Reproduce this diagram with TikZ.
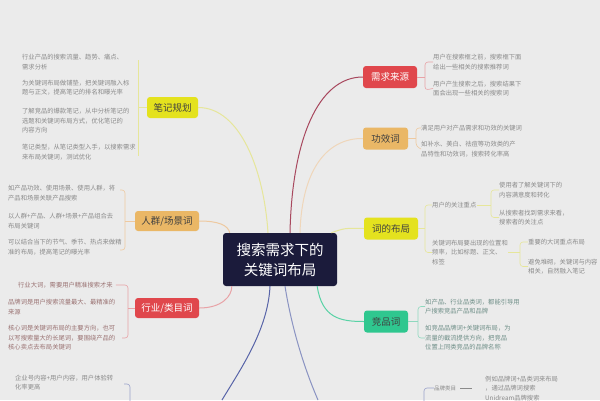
\documentclass[tikz,border=0pt]{standalone}
\usepackage{fontspec}
\setmainfont{Noto Sans CJK SC}
\definecolor{bgc}{HTML}{EBEBEB}
\definecolor{navy}{HTML}{1B1B3B}
\definecolor{redc}{HTML}{E0474C}
\definecolor{orac}{HTML}{EAB766}
\definecolor{yelc}{HTML}{E4E21E}
\definecolor{grnc}{HTML}{2FC78F}
\definecolor{leafc}{HTML}{8A8A8A}
\definecolor{leafr}{HTML}{9A7272}
\definecolor{leafg}{HTML}{6F8F88}
\definecolor{lred}{HTML}{E8A2A6}
\definecolor{lyel}{HTML}{E6E69A}
\definecolor{lora}{HTML}{EEC9A0}
\definecolor{lgrn}{HTML}{8FD8BE}
\definecolor{lnred}{HTML}{A8485E}
\definecolor{lnblu}{HTML}{5864A8}
\begin{document}
\begin{tikzpicture}[x=1pt,y=-1pt,
  box/.style={rounded corners=3pt, minimum height=22pt, inner sep=2pt, font=\fontsize{9.5}{11}\selectfont},
  leaf/.style={anchor=west, align=left, inner sep=0pt, text=leafc, font=\fontsize{6.3}{9.5}\selectfont},
  conn/.style={line width=1pt},
  brk/.style={line width=0.6pt, rounded corners=3pt}]
\fill[bgc] (0,0) rectangle (600,400);
\useasboundingbox (0,0) rectangle (600,400);

% center
\node[fill=navy, rounded corners=3pt, minimum width=114pt, minimum height=53pt, align=center, text=white,
  font=\fontsize{14.5}{20}\selectfont] (c) at (280,259.5) {搜索需求下的\\关键词布局};

% main boxes
\node[box, fill=redc, text=white, minimum width=54pt] (xq) at (390,77) {需求来源};
\node[box, fill=orac, text=black!75, minimum width=45pt] (gx) at (385.5,138.5) {功效词};
\node[box, fill=yelc, text=black!75, minimum width=54pt] (bj) at (391,228.5) {词的布局};
\node[box, fill=grnc, text=black!75, minimum width=44pt] (jp) at (386,321.5) {竞品词};
\node[box, fill=yelc, text=black!75, minimum width=51pt, minimum height=21pt] (gh) at (172.5,107.5) {笔记规划};
\node[box, fill=orac, text=black!75, minimum width=64pt, minimum height=20pt] (rq) at (167,221) {人群/场景词};
\node[box, fill=redc, text=white, minimum width=64pt, minimum height=20pt] (hy) at (167,308) {行业/类目词};

% connectors from center
\coordinate (b1) at (222,400);
\coordinate (b2) at (318,400);
\draw[conn, lnred] ([xshift=10pt]c.north) .. controls (292,140) and (318,77) .. (xq.west);
\draw[conn, lora!80!brown!60] ([xshift=20pt]c.north) .. controls (302,165) and (330,138) .. (gx.west);
\draw[conn, lyel] ([xshift=-6pt]c.north east) .. controls (345,228) .. (bj.west);
\draw[conn, grnc!80] ([xshift=-20pt]c.south east) .. controls (322,318) and (340,321.5) .. (jp.west);
\draw[conn, lyel] (gh.east) .. controls (240,107.5) and (264,170) .. ([xshift=-12pt]c.north);
\draw[conn, lora] (rq.east) .. controls (218,221) and (228,225) .. ([xshift=7pt]c.north west);
\draw[conn, lred] (hy.east) .. controls (222,308) and (232,296) .. ([xshift=9pt]c.south west);
\draw[conn, lnblu] ([xshift=-10pt]c.south) .. controls (268,330) and (240,370) .. (b1);
\draw[conn, lnblu!70] ([xshift=5pt]c.south) .. controls (292,330) and (305,370) .. (b2);

% ---- 需求来源 leaves
\node[leaf] (xq1) at (433,62) {用户在搜索框之前，搜索框下面\\给出一些相关的搜索推荐词};
\node[leaf] (xq2) at (433,88.5) {用户产生搜索之后，搜索结果下\\面会出现一些相关的搜索词};
\draw[brk, lred] (xq1.west) -- (425,62) -- (425,90) -- (xq2.west);
\draw[brk, lred] (xq.east) -- (425,77);

% ---- 功效词 leaves
\node[leaf] (gx1) at (421,128) {满足用户对产品需求和功效的关键词};
\node[leaf] (gx2) at (421,149) {如补水、美白、祛痘等功效类的产\\品特性和功效词，搜索转化率高};
\draw[brk, lora] (gx1.west) -- (416,128) -- (416,146) -- (gx2.west);
\draw[brk, lora] (gx.east) -- (416,138.5);

% ---- 词的布局
\node[leaf] (s1) at (432,205) {用户的关注重点};
\node[leaf] (s2) at (432,252.5) {关键词布局要出现的位置和\\频率，比如标题、正文、\\标签};
\draw[brk, lyel] (s1.west) -- (425,205) -- (425,252.5) -- (s2.west);
\draw[brk, lyel] (bj.east) -- (425,228.5);
\node[leaf] (s11) at (499,190) {使用者了解关键词下的\\内容满意度和转化};
\node[leaf] (s12) at (499,217.5) {从搜索者找到需求来看，\\搜索者的关注点};
\draw[brk, lyel] (s11.west) -- (491,190) -- (491,217.5) -- (s12.west);
\draw[brk, lyel] (s1.east) -- (491,205);
\node[leaf] (s21) at (528,242) {重要的大词重点布局};
\node[leaf] (s22) at (528,266.5) {避免堆砌，关键词与内容\\相关，自然融入笔记};
\draw[brk, lyel] (s21.west) -- (520,242) -- (520,266.5) -- (s22.west);
\draw[brk, lyel] (s2.east) -- (520,252.5);

% ---- 竞品词 leaves
\node[leaf, text=leafg] (jp1) at (425,306.5) {如产品、行业品类词，都能引导用\\户搜索竞品产品和品牌};
\node[leaf, text=leafg] (jp2) at (425,338) {如竞品品牌词+关键词布局，为\\流量的截流提供方向，把竞品\\位置上同类竞品的品牌名称};
\draw[brk, lgrn] (jp1.west) -- (418,306.5) -- (418,338) -- (jp2.west);
\draw[brk, lgrn] (jp.east) -- (418,321.5);

% ---- bottom right
\node[leaf, font=\fontsize{5.5}{9}\selectfont] (pp) at (434,388) {品牌类目};
\node[leaf] (pp1) at (485,388.5) {例如品牌词+品类词来布局\\，通过品牌词搜索\\Unidream品牌搜索};
\draw[line width=0.5pt, leafc] (pp.east) ++(4,0) -- ++(12,0);
\draw[brk, lnblu!60] (pp.west) -- (424,388) -- (424,402);

% ---- 笔记规划 leaves
\node[leaf] (gh1) at (22,62) {行业产品的搜索流量、趋势、痛点、\\需求分析};
\node[leaf] (gh2) at (22,87.5) {为关键词布局做铺垫，把关键词融入标\\题与正文，提高笔记的排名和曝光率};
\node[leaf] (gh3) at (22,121) {了解竞品的爆款笔记，从中分析笔记的\\选题和关键词布局方式，优化笔记的\\内容方向};
\node[leaf] (gh4) at (22,152) {笔记类型，从笔记类型入手，以搜索需求\\来布局关键词，测试优化};
\draw[brk, lyel] (138,60) -- (138,156);
\draw[brk, lyel] (gh.west) -- (138,107.5);

% ---- 人群/场景词 leaves
\node[leaf] (rq1) at (8,193) {如产品功效、使用场景、使用人群，将\\产品和场景关联产品搜索};
\node[leaf] (rq2) at (8,221) {以人群+产品、人群+场景+产品组合去\\布局关键词};
\node[leaf] (rq3) at (8,247) {可以结合当下的节气、季节、热点来做精\\准的布局，提高笔记的曝光率};
\draw[brk, lora] (120,190) -- (125,190) -- (125,250) -- (120,250);
\draw[brk, lora] (rq.west) -- (125,221);

% ---- 行业/类目词 leaves
\node[leaf, text=leafr] (hy1) at (18,285) {行业大词，需要用户精准搜索才来};
\node[leaf, text=leafr] (hy2) at (8,307) {品牌词是用户搜索流量最大、最精准的\\来源};
\node[leaf, text=leafr] (hy3) at (8,338) {核心词是关键词布局的主要方向，也可\\以写搜索量大的长尾词，要围绕产品的\\核心卖点去布局关键词};
\draw[brk, lred] (hy1.east) ++(3,0) -- (128,285) -- (128,338) -- (122,338);
\draw[brk, lred] (hy.west) -- (128,308);

% ---- bottom left
\node[leaf] (bl1) at (15,382.5) {企业号内容+用户内容，用户体验转\\化率更高};
\draw[brk, lnblu!60] (124,384) -- (130,384) -- (130,402);
\end{tikzpicture}
\end{document}
